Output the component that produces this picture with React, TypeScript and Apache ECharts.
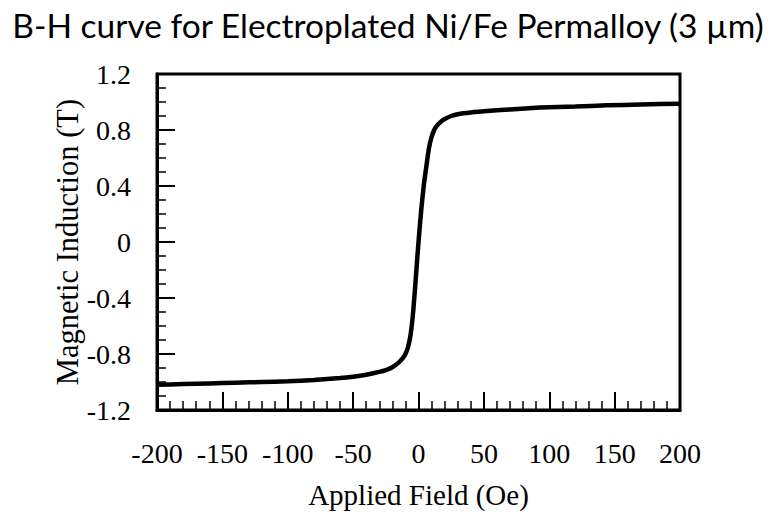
import React, { useEffect, useRef } from "react";
import * as echarts from "echarts";

const fieldOe: number[] = [-200, -180, -160, -140, -120, -100, -80, -60, -50, -40, -30, -25, -20, -15, -12, -10, -8, -6, -4, -2, 0, 2, 4, 6, 8, 10, 12, 14, 17, 20, 25, 30, 40, 55, 70, 93, 120, 144, 170, 200];
const inductionT: number[] = [-1.02, -1.015, -1.01, -1.005, -1.0, -0.995, -0.985, -0.972, -0.962, -0.948, -0.928, -0.915, -0.895, -0.86, -0.83, -0.8, -0.75, -0.66, -0.49, -0.25, 0.0, 0.22, 0.4, 0.54, 0.67, 0.75, 0.8, 0.83, 0.858, 0.878, 0.9, 0.913, 0.925, 0.937, 0.947, 0.96, 0.968, 0.976, 0.982, 0.988];

const titleText = "B-H curve for Electroplated Ni/Fe Permalloy (3 \u00b5m)";
const xName = "Applied Field (Oe)";
const yName = "Magnetic Induction (T)";

export default function App() {
  const ref = useRef<HTMLDivElement>(null);
  useEffect(() => {
    if (!ref.current) return;
    const chart = echarts.init(ref.current, null, { renderer: "svg" });
    const serif = "'Liberation Serif', 'DejaVu Serif', serif";
    chart.setOption({
      animation: false,
      backgroundColor: "#fff",
      title: {
        text: titleText,
        left: "center",
        top: 3,
        textStyle: { fontFamily: "Lato", fontSize: 33.5, fontWeight: "normal", color: "#000" },
      },
      grid: {
        left: 157,
        right: 96,
        top: 74,
        bottom: 97,
        show: true,
        borderColor: "#000",
        borderWidth: 3,
        backgroundColor: "transparent",
      },
      xAxis: {
        type: "value",
        min: -200,
        max: 200,
        interval: 50,
        name: xName,
        nameLocation: "middle",
        nameGap: 70,
        nameTextStyle: { fontFamily: serif, fontSize: 29, color: "#000" },
        axisLine: { show: true, onZero: false, lineStyle: { color: "#000", width: 3 } },
        axisTick: { show: true, inside: true, length: 18, lineStyle: { color: "#000", width: 2 } },
        minorTick: { show: true, splitNumber: 5, length: 9, lineStyle: { color: "#000", width: 1.5 } },
        splitLine: { show: false },
        axisLabel: { fontFamily: serif, fontSize: 28, color: "#000", margin: 29 },
      },
      yAxis: {
        type: "value",
        min: -1.2,
        max: 1.2,
        interval: 0.4,
        name: yName,
        nameLocation: "middle",
        nameGap: 74,
        nameMoveOverlap: false,
        nameTextStyle: { fontFamily: serif, fontSize: 30.5, color: "#000" },
        axisLine: { show: true, onZero: false, lineStyle: { color: "#000", width: 3 } },
        axisTick: { show: true, inside: true, length: 18, lineStyle: { color: "#000", width: 2 } },
        minorTick: { show: true, splitNumber: 4, length: 9, lineStyle: { color: "#000", width: 1.5 } },
        splitLine: { show: false },
        axisLabel: {
          fontFamily: serif,
          fontSize: 28,
          color: "#000",
          margin: 26,
          formatter: (v: number) => String(Number(v.toFixed(1))),
        },
      },
      series: [
        {
          type: "line",
          data: fieldOe.map((h, i) => [h, inductionT[i]]),
          showSymbol: false,
          smooth: 0.2,
          lineStyle: { color: "#000", width: 4.5 },
        },
      ],
    });
    return () => chart.dispose();
  }, []);
  return <div ref={ref} style={{ width: 776, height: 514, position: "absolute", left: 0, top: 0 }} />;
}
